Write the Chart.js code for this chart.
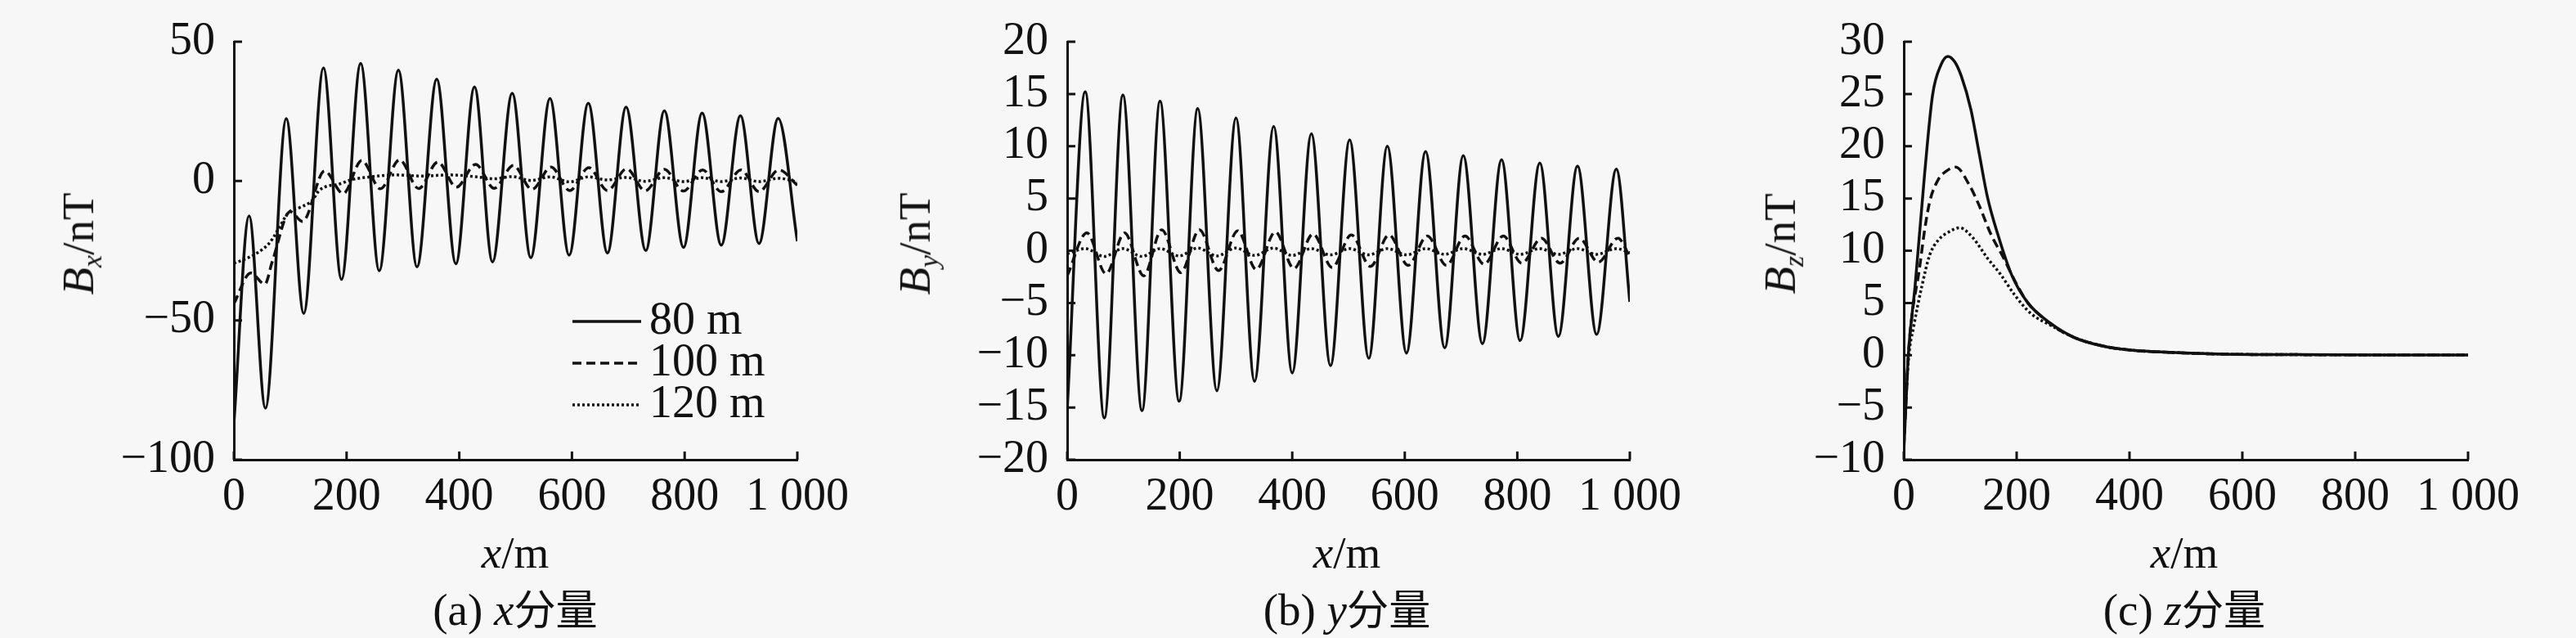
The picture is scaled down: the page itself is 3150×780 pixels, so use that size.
<!DOCTYPE html>
<html>
<head>
<meta charset="utf-8">
<script src="https://cdn.jsdelivr.net/npm/chart.js@4.4.0/dist/chart.umd.min.js"></script>
<style>
  html, body { margin: 0; padding: 0; background: #f7f7f7; }
  #page { position: relative; width: 3150px; height: 780px; overflow: hidden;
          font-family: "Liberation Serif", "Times New Roman", serif; color: #111; }
  .box { position: absolute; top: 0; height: 780px; }
  .lbl { position: absolute; white-space: nowrap; line-height: 1; font-size: 55px;
         transform: translate(-50%, -50%); }
  .rot { transform: translate(-50%, -50%) rotate(-90deg); }
  .lbl sub { font-size: 0.62em; vertical-align: -0.3em; }
  .cjk { font-family: "Noto Sans CJK SC", sans-serif; font-size: 0.93em; }
</style>
</head>
<body>
<div id="page">
  <div class="box" style="left:0;width:1060px"><canvas id="chartX"></canvas></div>
  <div class="box" style="left:1060px;width:1030px"><canvas id="chartY"></canvas></div>
  <div class="box" style="left:2090px;width:1060px"><canvas id="chartZ"></canvas></div>

  <div class="lbl rot" style="left:99px;top:298px"><i>B</i><sub><i>x</i></sub>/nT</div>
  <div class="lbl" style="left:630px;top:675px"><i>x</i>/m</div>
  <div class="lbl" style="left:630px;top:745px">(a) <i>x</i><span class="cjk">分量</span></div>

  <div class="lbl rot" style="left:1122px;top:298px"><i>B</i><sub><i>y</i></sub>/nT</div>
  <div class="lbl" style="left:1647px;top:675px"><i>x</i>/m</div>
  <div class="lbl" style="left:1647px;top:745px">(b) <i>y</i><span class="cjk">分量</span></div>

  <div class="lbl rot" style="left:2180px;top:298px"><i>B</i><sub><i>z</i></sub>/nT</div>
  <div class="lbl" style="left:2671px;top:675px"><i>x</i>/m</div>
  <div class="lbl" style="left:2671px;top:745px">(c) <i>z</i><span class="cjk">分量</span></div>
</div>

<script>
// 数据
const xTickValues = [0, 200, 400, 600, 800, 1000];
const xTickLabels = ['0', '200', '400', '600', '800', '1 000'];
const seriesNames = ['80 m', '100 m', '120 m'];

const bxTicks = [-100, -50, 0, 50];
const byTicks = [-20, -15, -10, -5, 0, 5, 10, 15, 20];
const bzTicks = [-10, -5, 0, 5, 10, 15, 20, 25, 30];

// (a) x 分量
const bx80X = [0, 27, 56, 93, 124, 159, 191, 225, 258, 292, 325, 360, 394, 427, 459, 494, 527, 561, 595, 629, 663, 696, 731, 764, 798, 831, 865, 899, 932, 966, 1000];
const bx80Y = [-87, -12.5, -81.5, 22.4, -47.5, 40.6, -35.3, 42.2, -32.2, 39.8, -30.8, 36.6, -29.7, 33.8, -29.0, 31.5, -27.5, 29.6, -26.6, 27.9, -25.8, 26.5, -24.9, 25.2, -23.8, 24.4, -23.0, 23.4, -22.4, 22.5, -21.6];
const bx100X = [0, 30, 55, 68, 100, 122, 161, 194, 227, 260, 294, 328, 362, 395, 429, 462, 496, 529, 563, 596, 630, 663, 697, 730, 764, 798, 832, 865, 900, 932, 967, 1000];
const bx100Y = [-44, -33, -37, -29, -11, -14.5, 3.6, -4.5, 7.4, -2.8, 7.6, -2.7, 6.8, -2.2, 6.0, -2.6, 5.6, -3.0, 5.0, -3.4, 4.8, -3.4, 4.4, -3.5, 4.2, -3.6, 4.0, -3.8, 4.0, -3.8, 4.0, -1.5];
const bx120X = [0, 20, 40, 64, 81, 96, 117, 139, 151, 166, 185, 209, 243, 286, 335, 383, 431, 462, 494, 528, 561, 596, 629, 663, 696, 730, 764, 798, 831, 865, 899, 932, 966, 1000];
const bx120Y = [-29.5, -28, -26, -22, -16.5, -11.5, -9.5, -7, -3.5, -1.8, -1.2, 0.5, 1.5, 2.2, 1.8, 2.2, 1.5, 0.8, 1.6, 0.2, 1.5, -0.3, 1.5, 0.4, 1.3, -0.1, 1.2, -0.2, 1.2, -0.2, 1.1, -0.2, 1.0, -0.3];

// (b) y 分量
const by80X = [0, 32, 66, 99, 133, 165, 199, 232, 266, 300, 333, 367, 400, 434, 468, 502, 536, 569, 603, 637, 671, 704, 738, 772, 805, 840, 873, 907, 941, 976, 1000];
const by80Y = [-15.2, 15.2, -16.0, 14.9, -15.3, 14.3, -14.4, 13.6, -13.4, 12.7, -12.5, 11.9, -11.7, 11.2, -11.0, 10.6, -10.3, 10.0, -9.8, 9.5, -9.3, 9.1, -8.9, 8.7, -8.6, 8.4, -8.2, 8.1, -8.0, 7.8, -4.9];
const by100X = [0, 35, 69, 102, 136, 168, 202, 235, 269, 303, 336, 370, 403, 437, 471, 505, 539, 572, 606, 640, 674, 707, 741, 775, 808, 843, 876, 910, 944, 979, 1000];
const by100Y = [-2.4, 1.7, -2.2, 1.7, -2.4, 2.0, -2.1, 2.0, -1.9, 1.9, -1.8, 1.8, -1.7, 1.6, -1.6, 1.5, -1.5, 1.5, -1.4, 1.4, -1.4, 1.4, -1.3, 1.4, -1.2, 1.2, -1.2, 1.2, -1.1, 1.2, -0.6];
const by120X = [0, 32, 66, 99, 133, 165, 199, 232, 266, 300, 333, 367, 400, 434, 468, 502, 536, 569, 603, 637, 671, 704, 738, 772, 805, 840, 873, 907, 941, 976, 1000];
const by120Y = [-0.3, 0.2, -0.55, 0.2, -0.55, 0.2, -0.5, 0.25, -0.5, 0.25, -0.45, 0.25, -0.45, 0.2, -0.4, 0.2, -0.4, 0.2, -0.4, 0.2, -0.35, 0.2, -0.35, 0.2, -0.35, 0.2, -0.35, 0.2, -0.35, 0.2, -0.2];

// (c) z 分量
const bz80X = [0, 4, 8, 20, 37, 51, 66, 78, 90, 102, 119, 133, 148, 167, 191, 220, 259, 302, 351, 399, 471, 568, 700, 850, 1000];
const bz80Y = [-9.2, -4.5, 0, 6.6, 17.4, 24.9, 27.8, 28.6, 28.1, 26.7, 23.5, 19.5, 15.2, 11.5, 7.7, 5.0, 3.1, 1.7, 0.9, 0.5, 0.27, 0.1, 0.05, 0.02, 0.01];
const bz100X = [0, 4, 8, 15, 27, 37, 46, 61, 75, 92, 116, 133, 155, 177, 196, 220, 244, 270, 302, 351, 399, 471, 568, 700, 850, 1000];
const bz100Y = [-8.8, -4.3, 0, 4, 8, 12, 14.7, 16.8, 17.6, 18.0, 16.3, 14.4, 11.5, 9.3, 7.2, 5.0, 3.7, 2.6, 1.7, 0.9, 0.5, 0.27, 0.1, 0.05, 0.02, 0.01];
const bz120X = [0, 4, 9, 17, 32, 46, 61, 80, 99, 123, 148, 172, 196, 225, 259, 302, 351, 399, 471, 568, 700, 850, 1000];
const bz120Y = [-8.5, -4, 0, 2.6, 6.6, 9.6, 11, 11.8, 12.2, 11.2, 9.3, 7.7, 5.8, 4.0, 2.9, 1.7, 0.9, 0.5, 0.27, 0.1, 0.05, 0.02, 0.01];

const ink = '#111';
const dashes = [[], [11, 6], [3, 3]];
const tickFont = { family: '"Liberation Serif", "Times New Roman", serif', size: 56, lineHeight: 1 };

// 刻度线朝内
const inwardTicks = {
  id: 'inwardTicks',
  afterDraw(chart) {
    const { ctx, chartArea: a, scales: { x, y } } = chart;
    ctx.save();
    ctx.strokeStyle = ink;
    ctx.lineWidth = 3;
    ctx.beginPath();
    x.ticks.forEach(t => {
      const px = x.getPixelForValue(t.value);
      ctx.moveTo(px, a.bottom);
      ctx.lineTo(px, a.bottom - 10);
    });
    y.ticks.forEach(t => {
      const py = y.getPixelForValue(t.value);
      ctx.moveTo(a.left, py);
      ctx.lineTo(a.left + 10, py);
    });
    ctx.stroke();
    ctx.restore();
  }
};

// 图例
const seriesKey = {
  id: 'seriesKey',
  afterDraw(chart, args, o) {
    if (!o.show) return;
    const ctx = chart.ctx;
    ctx.save();
    ctx.font = '56px "Liberation Serif", "Times New Roman", serif';
    ctx.fillStyle = ink;
    ctx.textBaseline = 'middle';
    chart.data.datasets.forEach((ds, i) => {
      const y = o.top + i * o.row;
      ctx.strokeStyle = ds.borderColor;
      ctx.lineWidth = ds.borderWidth;
      ctx.setLineDash(ds.borderDash);
      ctx.beginPath();
      ctx.moveTo(o.left, y);
      ctx.lineTo(o.left + o.len, y);
      ctx.stroke();
      ctx.fillText(ds.label, o.left + o.len + o.gap, y);
    });
    ctx.restore();
  }
};

function makeChart(id, xs, ys, yTicks, axisW, padRight, key) {
  const datasets = seriesNames.map((name, i) => ({
    label: name,
    data: xs[i].map((x, k) => ({ x: x, y: ys[i][k] })),
    borderColor: ink,
    borderWidth: 3.5,
    borderDash: dashes[i],
    borderJoinStyle: 'round',
    pointRadius: 0,
    fill: false,
    cubicInterpolationMode: 'monotone'
  }));
  return new Chart(document.getElementById(id), {
    type: 'line',
    data: { datasets },
    options: {
      responsive: true,
      maintainAspectRatio: false,
      animation: false,
      layout: { padding: { left: 0, top: 30, right: padRight, bottom: 100 } },
      plugins: {
        legend: { display: false },
        tooltip: { enabled: false },
        seriesKey: key
      },
      scales: {
        x: {
          type: 'linear',
          min: 0,
          max: 1000,
          afterBuildTicks: s => { s.ticks = xTickValues.map(v => ({ value: v })); },
          afterFit: s => { s.height = 118; },
          grid: { display: false, drawTicks: false },
          border: { display: true, color: ink, width: 3 },
          ticks: {
            autoSkip: false, maxRotation: 0, minRotation: 0, padding: 18,
            color: ink, font: tickFont,
            callback: (v, i) => xTickLabels[i]
          }
        },
        y: {
          type: 'linear',
          min: yTicks[0],
          max: yTicks[yTicks.length - 1],
          afterBuildTicks: s => { s.ticks = yTicks.map(v => ({ value: v })); },
          afterFit: s => { s.width = axisW; },
          grid: { display: false, drawTicks: false },
          border: { display: true, color: ink, width: 3 },
          ticks: {
            padding: 23, color: ink, font: tickFont,
            callback: v => String(v).replace('-', '\u2212')
          }
        }
      }
    },
    plugins: [inwardTicks, seriesKey]
  });
}

makeChart('chartX', [bx80X, bx100X, bx120X], [bx80Y, bx100Y, bx120Y], bxTicks, 286, 85,
  { show: true, left: 700, top: 393, row: 51, len: 84, gap: 10 });
makeChart('chartY', [by80X, by100X, by120X], [by80Y, by100Y, by120Y], byTicks, 245, 97,
  { show: false });
makeChart('chartZ', [bz80X, bz100X, bz120X], [bz80Y, bz100Y, bz120Y], bzTicks, 238, 132,
  { show: false });
</script>
</body>
</html>
